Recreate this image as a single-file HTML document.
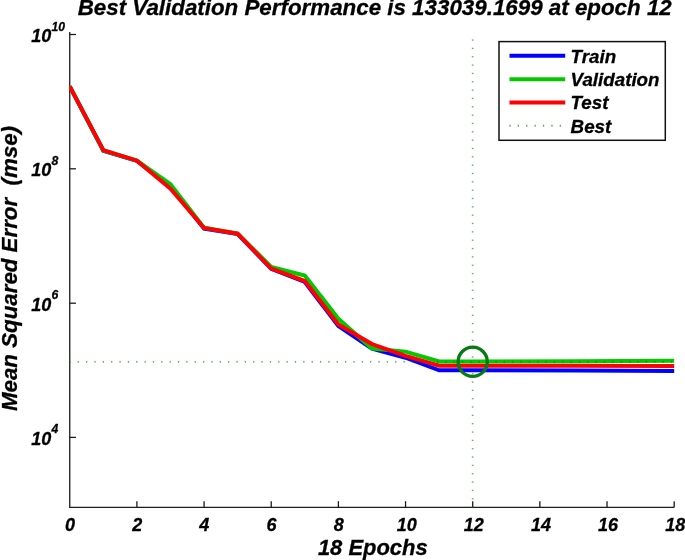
<!DOCTYPE html>
<html><head><meta charset="utf-8"><title>Performance</title>
<style>html,body{margin:0;padding:0;background:#fff;}svg{display:block;}text{font-family:"Liberation Sans",sans-serif;font-weight:bold;font-style:italic;fill:#000;stroke:#000;stroke-width:0.3px;}</style></head><body>
<svg width="685" height="560" viewBox="0 0 685 560">
<rect width="685" height="560" fill="#fff"/>
<g opacity="0.999">
<defs><clipPath id="pc"><rect x="69" y="30" width="606.5" height="478"/></clipPath></defs>
<g stroke="#1c1c1c" stroke-width="1.3" fill="none">
<path d="M69.75,32.0 V507.4 H674.2"/>
<path d="M136.91,507.4 V501.2"/>
<path d="M204.07,507.4 V501.2"/>
<path d="M271.23,507.4 V501.2"/>
<path d="M338.39,507.4 V501.2"/>
<path d="M405.55,507.4 V501.2"/>
<path d="M472.71,507.4 V501.2"/>
<path d="M539.87,507.4 V501.2"/>
<path d="M607.03,507.4 V501.2"/>
<path d="M674.19,507.4 V501.2"/>
<path d="M69.75,34.5 H75.95"/>
<path d="M69.75,168.8 H75.95"/>
<path d="M69.75,303.2 H75.95"/>
<path d="M69.75,437.4 H75.95"/>
</g>
<g fill="none" stroke-width="4" stroke-linejoin="miter" clip-path="url(#pc)">
<polyline stroke="#0000ff" points="69.75,86.40 103.33,150.80 136.91,160.80 170.49,186.50 204.07,228.60 237.65,234.00 271.23,268.90 304.81,282.00 338.39,326.00 371.97,348.70 405.55,357.70 439.13,370.30 472.71,370.20 674.19,370.90"/>
<polyline stroke="#00c800" points="69.75,86.40 103.33,150.50 136.91,160.60 170.49,184.10 204.07,227.70 237.65,233.50 271.23,266.90 304.81,275.50 338.39,318.80 371.97,348.50 405.55,351.60 439.13,361.40 472.71,361.50 674.19,360.80"/>
<polyline stroke="#ff0000" points="69.75,86.40 103.33,150.10 136.91,160.70 170.49,188.80 204.07,228.00 237.65,233.70 271.23,268.60 304.81,281.00 338.39,324.50 371.97,344.10 405.55,355.90 439.13,365.70 472.71,365.70 674.19,365.90"/>
</g>
<g fill="rgb(0,128,0)" fill-opacity="0.62">
<rect x="69.30" y="360.90" width="1.3" height="1.8"/>
<rect x="77.65" y="360.90" width="1.3" height="1.8"/>
<rect x="86.01" y="360.90" width="1.3" height="1.8"/>
<rect x="94.36" y="360.90" width="1.3" height="1.8"/>
<rect x="102.72" y="360.90" width="1.3" height="1.8"/>
<rect x="111.07" y="360.90" width="1.3" height="1.8"/>
<rect x="119.42" y="360.90" width="1.3" height="1.8"/>
<rect x="127.78" y="360.90" width="1.3" height="1.8"/>
<rect x="136.13" y="360.90" width="1.3" height="1.8"/>
<rect x="144.49" y="360.90" width="1.3" height="1.8"/>
<rect x="152.84" y="360.90" width="1.3" height="1.8"/>
<rect x="161.19" y="360.90" width="1.3" height="1.8"/>
<rect x="169.55" y="360.90" width="1.3" height="1.8"/>
<rect x="177.90" y="360.90" width="1.3" height="1.8"/>
<rect x="186.26" y="360.90" width="1.3" height="1.8"/>
<rect x="194.61" y="360.90" width="1.3" height="1.8"/>
<rect x="202.96" y="360.90" width="1.3" height="1.8"/>
<rect x="211.32" y="360.90" width="1.3" height="1.8"/>
<rect x="219.67" y="360.90" width="1.3" height="1.8"/>
<rect x="228.03" y="360.90" width="1.3" height="1.8"/>
<rect x="236.38" y="360.90" width="1.3" height="1.8"/>
<rect x="244.73" y="360.90" width="1.3" height="1.8"/>
<rect x="253.09" y="360.90" width="1.3" height="1.8"/>
<rect x="261.44" y="360.90" width="1.3" height="1.8"/>
<rect x="269.80" y="360.90" width="1.3" height="1.8"/>
<rect x="278.15" y="360.90" width="1.3" height="1.8"/>
<rect x="286.50" y="360.90" width="1.3" height="1.8"/>
<rect x="294.86" y="360.90" width="1.3" height="1.8"/>
<rect x="303.21" y="360.90" width="1.3" height="1.8"/>
<rect x="311.57" y="360.90" width="1.3" height="1.8"/>
<rect x="319.92" y="360.90" width="1.3" height="1.8"/>
<rect x="328.27" y="360.90" width="1.3" height="1.8"/>
<rect x="336.63" y="360.90" width="1.3" height="1.8"/>
<rect x="344.98" y="360.90" width="1.3" height="1.8"/>
<rect x="353.34" y="360.90" width="1.3" height="1.8"/>
<rect x="361.69" y="360.90" width="1.3" height="1.8"/>
<rect x="370.04" y="360.90" width="1.3" height="1.8"/>
<rect x="378.40" y="360.90" width="1.3" height="1.8"/>
<rect x="386.75" y="360.90" width="1.3" height="1.8"/>
<rect x="395.11" y="360.90" width="1.3" height="1.8"/>
<rect x="403.46" y="360.90" width="1.3" height="1.8"/>
<rect x="411.81" y="360.90" width="1.3" height="1.8"/>
<rect x="420.17" y="360.90" width="1.3" height="1.8"/>
<rect x="428.52" y="360.90" width="1.3" height="1.8"/>
<rect x="436.88" y="360.90" width="1.3" height="1.8"/>
<rect x="445.23" y="360.90" width="1.3" height="1.8"/>
<rect x="453.58" y="360.90" width="1.3" height="1.8"/>
<rect x="461.94" y="360.90" width="1.3" height="1.8"/>
<rect x="470.29" y="360.90" width="1.3" height="1.8"/>
<rect x="478.65" y="360.90" width="1.3" height="1.8"/>
<rect x="487.00" y="360.90" width="1.3" height="1.8"/>
<rect x="495.35" y="360.90" width="1.3" height="1.8"/>
<rect x="503.71" y="360.90" width="1.3" height="1.8"/>
<rect x="512.06" y="360.90" width="1.3" height="1.8"/>
<rect x="520.42" y="360.90" width="1.3" height="1.8"/>
<rect x="528.77" y="360.90" width="1.3" height="1.8"/>
<rect x="537.12" y="360.90" width="1.3" height="1.8"/>
<rect x="545.48" y="360.90" width="1.3" height="1.8"/>
<rect x="553.83" y="360.90" width="1.3" height="1.8"/>
<rect x="562.19" y="360.90" width="1.3" height="1.8"/>
<rect x="570.54" y="360.90" width="1.3" height="1.8"/>
<rect x="578.89" y="360.90" width="1.3" height="1.8"/>
<rect x="587.25" y="360.90" width="1.3" height="1.8"/>
<rect x="595.60" y="360.90" width="1.3" height="1.8"/>
<rect x="603.96" y="360.90" width="1.3" height="1.8"/>
<rect x="612.31" y="360.90" width="1.3" height="1.8"/>
<rect x="620.66" y="360.90" width="1.3" height="1.8"/>
<rect x="629.02" y="360.90" width="1.3" height="1.8"/>
<rect x="637.37" y="360.90" width="1.3" height="1.8"/>
<rect x="645.73" y="360.90" width="1.3" height="1.8"/>
<rect x="654.08" y="360.90" width="1.3" height="1.8"/>
<rect x="662.43" y="360.90" width="1.3" height="1.8"/>
<rect x="670.79" y="360.90" width="1.3" height="1.8"/>
<rect x="471.80" y="506.45" width="1.7" height="1.3"/>
<rect x="471.80" y="498.11" width="1.7" height="1.3"/>
<rect x="471.80" y="489.77" width="1.7" height="1.3"/>
<rect x="471.80" y="481.43" width="1.7" height="1.3"/>
<rect x="471.80" y="473.09" width="1.7" height="1.3"/>
<rect x="471.80" y="464.75" width="1.7" height="1.3"/>
<rect x="471.80" y="456.41" width="1.7" height="1.3"/>
<rect x="471.80" y="448.07" width="1.7" height="1.3"/>
<rect x="471.80" y="439.73" width="1.7" height="1.3"/>
<rect x="471.80" y="431.39" width="1.7" height="1.3"/>
<rect x="471.80" y="423.05" width="1.7" height="1.3"/>
<rect x="471.80" y="414.71" width="1.7" height="1.3"/>
<rect x="471.80" y="406.37" width="1.7" height="1.3"/>
<rect x="471.80" y="398.03" width="1.7" height="1.3"/>
<rect x="471.80" y="389.69" width="1.7" height="1.3"/>
<rect x="471.80" y="381.35" width="1.7" height="1.3"/>
<rect x="471.80" y="373.01" width="1.7" height="1.3"/>
<rect x="471.80" y="364.67" width="1.7" height="1.3"/>
<rect x="471.80" y="356.33" width="1.7" height="1.3"/>
<rect x="471.80" y="347.99" width="1.7" height="1.3"/>
<rect x="471.80" y="339.65" width="1.7" height="1.3"/>
<rect x="471.80" y="331.31" width="1.7" height="1.3"/>
<rect x="471.80" y="322.97" width="1.7" height="1.3"/>
<rect x="471.80" y="314.63" width="1.7" height="1.3"/>
<rect x="471.80" y="306.29" width="1.7" height="1.3"/>
<rect x="471.80" y="297.95" width="1.7" height="1.3"/>
<rect x="471.80" y="289.61" width="1.7" height="1.3"/>
<rect x="471.80" y="281.27" width="1.7" height="1.3"/>
<rect x="471.80" y="272.93" width="1.7" height="1.3"/>
<rect x="471.80" y="264.59" width="1.7" height="1.3"/>
<rect x="471.80" y="256.25" width="1.7" height="1.3"/>
<rect x="471.80" y="247.91" width="1.7" height="1.3"/>
<rect x="471.80" y="239.57" width="1.7" height="1.3"/>
<rect x="471.80" y="231.23" width="1.7" height="1.3"/>
<rect x="471.80" y="222.89" width="1.7" height="1.3"/>
<rect x="471.80" y="214.55" width="1.7" height="1.3"/>
<rect x="471.80" y="206.21" width="1.7" height="1.3"/>
<rect x="471.80" y="197.87" width="1.7" height="1.3"/>
<rect x="471.80" y="189.53" width="1.7" height="1.3"/>
<rect x="471.80" y="181.19" width="1.7" height="1.3"/>
<rect x="471.80" y="172.85" width="1.7" height="1.3"/>
<rect x="471.80" y="164.51" width="1.7" height="1.3"/>
<rect x="471.80" y="156.17" width="1.7" height="1.3"/>
<rect x="471.80" y="147.83" width="1.7" height="1.3"/>
<rect x="471.80" y="139.49" width="1.7" height="1.3"/>
<rect x="471.80" y="131.15" width="1.7" height="1.3"/>
<rect x="471.80" y="122.81" width="1.7" height="1.3"/>
<rect x="471.80" y="114.47" width="1.7" height="1.3"/>
<rect x="471.80" y="106.13" width="1.7" height="1.3"/>
<rect x="471.80" y="97.79" width="1.7" height="1.3"/>
<rect x="471.80" y="89.45" width="1.7" height="1.3"/>
<rect x="471.80" y="81.11" width="1.7" height="1.3"/>
<rect x="471.80" y="72.77" width="1.7" height="1.3"/>
<rect x="471.80" y="64.43" width="1.7" height="1.3"/>
<rect x="471.80" y="56.09" width="1.7" height="1.3"/>
<rect x="471.80" y="47.75" width="1.7" height="1.3"/>
<rect x="471.80" y="39.41" width="1.7" height="1.3"/>
</g>
<circle cx="472.7" cy="361.8" r="14.6" fill="none" stroke="#077a14" stroke-width="3.3"/>
<rect x="499" y="41.6" width="166.3" height="98.7" fill="#fff" stroke="#111" stroke-width="1.5"/>
<line x1="509.5" x2="565.2" y1="55.8" y2="55.8" stroke="#0000ff" stroke-width="4"/>
<line x1="509.5" x2="565.2" y1="79.2" y2="79.2" stroke="#00c800" stroke-width="4"/>
<line x1="509.5" x2="565.2" y1="102.5" y2="102.5" stroke="#ff0000" stroke-width="4"/>
<g fill="rgb(0,128,0)" fill-opacity="0.7">
<rect x="509.30" y="124.80" width="1.3" height="1.8"/>
<rect x="517.70" y="124.80" width="1.3" height="1.8"/>
<rect x="526.10" y="124.80" width="1.3" height="1.8"/>
<rect x="534.50" y="124.80" width="1.3" height="1.8"/>
<rect x="542.90" y="124.80" width="1.3" height="1.8"/>
<rect x="551.30" y="124.80" width="1.3" height="1.8"/>
<rect x="559.70" y="124.80" width="1.3" height="1.8"/>
</g>
<text x="570.6" y="62.8" font-size="18.75">Train</text>
<text x="570.6" y="85.7" font-size="18.75">Validation</text>
<text x="570.6" y="109.3" font-size="18.75">Test</text>
<text x="570.6" y="132.7" font-size="18.75">Best</text>
<text x="77.7" y="15.4" font-size="22.35">Best Validation Performance is 133039.1699 at epoch 12</text>
<text x="317.9" y="555.3" font-size="21.95">18 Epochs</text>
<text transform="translate(16.6,411.0) rotate(-90)" font-size="22.3" xml:space="preserve">Mean Squared Error  (mse)</text>
<text x="70.05" y="531.2" font-size="18" text-anchor="middle">0</text>
<text x="137.21" y="531.2" font-size="18" text-anchor="middle">2</text>
<text x="204.37" y="531.2" font-size="18" text-anchor="middle">4</text>
<text x="271.53" y="531.2" font-size="18" text-anchor="middle">6</text>
<text x="338.69" y="531.2" font-size="18" text-anchor="middle">8</text>
<text x="406.65" y="531.2" font-size="18" text-anchor="middle">10</text>
<text x="473.81" y="531.2" font-size="18" text-anchor="middle">12</text>
<text x="540.97" y="531.2" font-size="18" text-anchor="middle">14</text>
<text x="608.13" y="531.2" font-size="18" text-anchor="middle">16</text>
<text x="675.29" y="531.2" font-size="18" text-anchor="middle">18</text>
<text x="31.3" y="42.0" font-size="18">10</text>
<text x="51.4" y="30.5" font-size="12.2">10</text>
<text x="31.3" y="176.3" font-size="18">10</text>
<text x="51.4" y="164.8" font-size="12.2">8</text>
<text x="31.3" y="310.7" font-size="18">10</text>
<text x="51.4" y="299.2" font-size="12.2">6</text>
<text x="31.3" y="444.9" font-size="18">10</text>
<text x="51.4" y="433.4" font-size="12.2">4</text>
</g>
</svg></body></html>
